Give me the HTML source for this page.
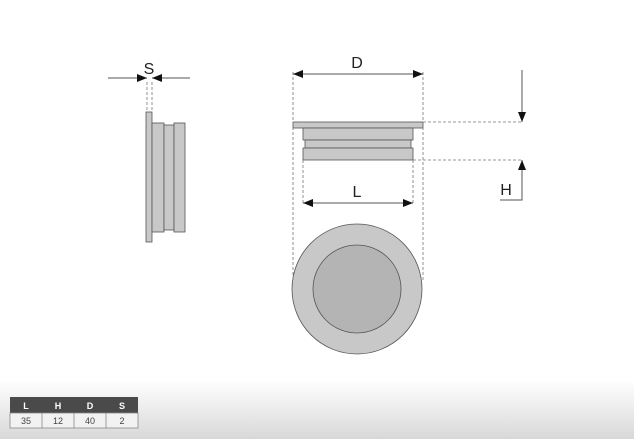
<!DOCTYPE html>
<html><head><style>body{margin:0;background:#fff}svg{display:block}</style></head><body>
<svg width="634" height="439" viewBox="0 0 634 439" xmlns="http://www.w3.org/2000/svg" font-family="Liberation Sans, sans-serif">
<defs>
<linearGradient id="g" x1="0" y1="0" x2="0" y2="1"><stop offset="0" stop-color="#fff"/><stop offset="1" stop-color="#d8d8d8"/></linearGradient>
<marker id="a" markerWidth="10" markerHeight="8" refX="10" refY="4" orient="auto" markerUnits="userSpaceOnUse"><path d="M0,0 L10,4 L0,8 Z" fill="#111"/></marker>
</defs>
<rect x="0" y="380" width="634" height="59" fill="url(#g)"/>
<g stroke="#555" stroke-width="0.8" fill="#c8c8c8">
<!-- side view -->
<rect x="146" y="112" width="6" height="130"/>
<rect x="152" y="123" width="12" height="109"/>
<rect x="164" y="125" width="10" height="105"/>
<rect x="174" y="123" width="11" height="109"/>
<!-- front -->
<rect x="293" y="122" width="130" height="6"/>
<rect x="303" y="128" width="110" height="12"/>
<rect x="305" y="140" width="106" height="8"/>
<rect x="303" y="148" width="110" height="12"/>
<circle cx="357" cy="289" r="65"/>
<circle cx="357" cy="289" r="44" fill="#b4b4b4"/>
</g>
<g stroke="#777" stroke-width="0.8" stroke-dasharray="3,2" fill="none">
<line x1="147" y1="82" x2="147" y2="112"/><line x1="152" y1="82" x2="152" y2="112"/>
<line x1="293" y1="72" x2="293" y2="280"/><line x1="423" y1="72" x2="423" y2="280"/>
<line x1="303" y1="160" x2="303" y2="205"/><line x1="413" y1="160" x2="413" y2="205"/>
<line x1="423" y1="122" x2="522" y2="122"/><line x1="413" y1="160" x2="522" y2="160"/>
</g>
<g stroke="#555" stroke-width="1" fill="none">
<line x1="108" y1="78" x2="147" y2="78" marker-end="url(#a)"/>
<line x1="190" y1="78" x2="152" y2="78" marker-end="url(#a)"/>
<line x1="357" y1="74" x2="293" y2="74" marker-end="url(#a)"/>
<line x1="357" y1="74" x2="423" y2="74" marker-end="url(#a)"/>
<line x1="357" y1="203" x2="303" y2="203" marker-end="url(#a)"/>
<line x1="357" y1="203" x2="413" y2="203" marker-end="url(#a)"/>
<line x1="522" y1="70" x2="522" y2="122" marker-end="url(#a)"/>
<path d="M500,200 L522,200 L522,160" marker-end="url(#a)"/>
</g>
<g font-size="16" fill="#222" text-anchor="middle">
<text x="149" y="74">S</text><text x="357" y="68">D</text><text x="357" y="197">L</text><text x="506" y="195">H</text>
</g>
<rect x="10" y="397" width="128" height="16" fill="#4a4a4a"/>
<rect x="10" y="413" width="128" height="15" fill="#f2f2f2" stroke="#888" stroke-width="0.8"/>
<g stroke="#888" stroke-width="0.8"><line x1="42" y1="413" x2="42" y2="428"/><line x1="74" y1="413" x2="74" y2="428"/><line x1="106" y1="413" x2="106" y2="428"/></g>
<g font-size="9" text-anchor="middle"><g fill="#fff" font-weight="bold"><text x="26" y="409">L</text><text x="58" y="409">H</text><text x="90" y="409">D</text><text x="122" y="409">S</text></g>
<g fill="#444"><text x="26" y="424">35</text><text x="58" y="424">12</text><text x="90" y="424">40</text><text x="122" y="424">2</text></g></g>
</svg>
</body></html>
